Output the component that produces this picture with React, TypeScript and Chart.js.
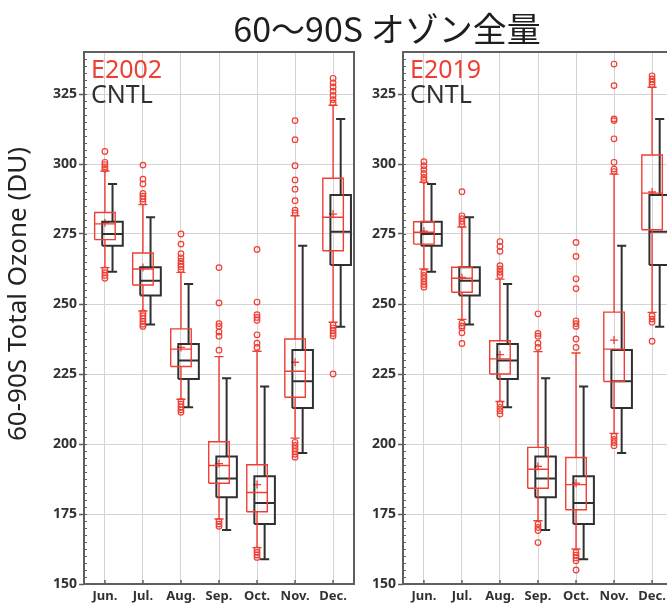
import { useEffect, useRef } from 'react';
import { Chart, registerables } from 'chart.js';

Chart.register(...registerables);

// ---------- data ----------
const MONTHS = ['Jun.', 'Jul.', 'Aug.', 'Sep.', 'Oct.', 'Nov.', 'Dec.'];
const Y_TICKS = [150, 175, 200, 225, 250, 275, 300, 325];
const TITLE_LATIN = '60〜90S';
const TITLE_JA = 'オゾン全量';
const Y_TITLE = '60-90S Total Ozone (DU)';
const CNTL_LABEL = 'CNTL';

// CNTL (black) boxes: whisker low, Q1, median, Q3, whisker high
const CNTL_LOW = [261.5, 242.7, 213.1, 169.3, 158.8, 196.8, 241.9];
const CNTL_Q1 = [270.8, 253.0, 223.2, 181.0, 171.4, 212.9, 263.9];
const CNTL_MED = [275.0, 258.3, 229.8, 187.7, 178.9, 222.4, 275.8];
const CNTL_Q3 = [279.4, 263.1, 235.7, 195.5, 188.5, 233.6, 288.9];
const CNTL_HIGH = [292.9, 281.0, 257.1, 223.5, 220.5, 270.8, 316.1];

// E2002 (red, left panel)
const E2002_LOW = [263.0, 247.5, 216.0, 173.2, 163.0, 202.1, 243.5];
const E2002_Q1 = [273.0, 256.8, 227.7, 186.0, 175.8, 216.7, 269.0];
const E2002_MED = [278.6, 262.5, 233.9, 192.3, 182.7, 226.0, 281.0];
const E2002_Q3 = [282.7, 268.2, 241.1, 200.8, 192.6, 237.5, 294.9];
const E2002_HIGH = [297.5, 285.5, 261.3, 231.2, 233.1, 281.5, 321.0];
const E2002_MEAN = [279.0, 263.0, 234.5, 193.0, 185.5, 229.2, 282.1];
const E2002_OUTLIERS = [
  [304.5, 300.6, 299.8, 299.0, 298.2, 262.2, 261.2, 260.2, 259.2],
  [299.6, 294.6, 292.9, 289.5, 288.5, 287.5, 286.5, 246.8, 245.8, 244.8, 243.8, 242.8, 242.0],
  [275.0, 271.4, 268.0, 266.5, 265.3, 264.2, 263.3, 262.3, 215.2, 214.2, 213.2, 212.2, 211.3],
  [263.0, 250.4, 243.0, 242.0, 240.0, 238.5, 233.5, 172.3, 171.4, 170.6],
  [269.5, 250.7, 246.2, 245.2, 244.2, 239.0, 236.0, 234.5, 162.2, 161.3, 160.4, 159.5],
  [315.5, 308.7, 299.4, 294.3, 291.0, 286.9, 283.5, 282.5, 200.6, 199.5, 198.4, 197.3, 196.3, 195.3],
  [330.6, 329.0, 327.5, 326.0, 324.5, 323.0, 321.8, 242.5, 241.5, 240.5, 239.5, 238.6, 225.0],
];

// E2019 (red, right panel)
const E2019_LOW = [262.5, 244.5, 215.2, 172.6, 162.5, 203.8, 247.0];
const E2019_Q1 = [271.4, 254.2, 225.0, 184.2, 176.5, 222.3, 276.5];
const E2019_MED = [275.6, 259.2, 230.4, 191.0, 185.5, 233.9, 289.6];
const E2019_Q3 = [279.4, 263.1, 236.9, 198.8, 195.2, 247.1, 303.2];
const E2019_HIGH = [293.5, 277.5, 258.9, 233.0, 232.5, 296.4, 327.4];
const E2019_MEAN = [276.0, 259.5, 231.9, 192.0, 186.0, 237.1, 290.0];
const E2019_OUTLIERS = [
  [300.8, 299.4, 298.0, 296.6, 295.2, 294.2, 261.3, 260.2, 259.1, 258.0, 257.0, 256.0],
  [290.1, 281.5, 280.5, 279.5, 278.5, 243.2, 242.2, 241.5, 239.7, 235.9],
  [272.3, 270.6, 268.8, 263.7, 262.5, 261.3, 260.2, 214.3, 213.1, 211.9, 210.7],
  [246.5, 239.5, 238.5, 236.0, 234.5, 171.4, 170.2, 169.1, 164.8],
  [272.0, 267.0, 259.0, 255.5, 244.0, 243.0, 242.0, 237.5, 234.5, 161.3, 160.3, 159.3, 158.3, 155.0],
  [335.7, 328.0, 316.1, 315.5, 309.0, 300.6, 298.2, 297.3, 202.8, 201.6, 200.5, 199.4],
  [331.5, 330.4, 329.3, 328.3, 245.8, 244.6, 243.5, 236.7],
];

// ---------- styling ----------
const RED = 'rgb(240,62,52)';
const DARK = 'rgb(48,48,48)';
const FRAME = 'rgb(95,95,95)';
const GRID = 'rgb(212,212,212)';
const RED_OFFSET = 0;
const CNTL_OFFSET = 0.2;
const HALF_W = 0.27;
const CAP_W = 0.12;
const Y_MIN = 150;
const Y_MAX = 340;
const Y_MINOR = 2.5;

type Pt = { x: number; y: number | null };

function boxPath(off: number, low: number[], q1: number[], med: number[], q3: number[], high: number[]): Pt[] {
  const pts: Pt[] = [];
  low.forEach((_, i) => {
    const c = i + off;
    const gap = () => pts.push({ x: c, y: null });
    pts.push({ x: c - HALF_W, y: q1[i] }, { x: c + HALF_W, y: q1[i] }, { x: c + HALF_W, y: q3[i] }, { x: c - HALF_W, y: q3[i] }, { x: c - HALF_W, y: q1[i] });
    gap();
    pts.push({ x: c - HALF_W, y: med[i] }, { x: c + HALF_W, y: med[i] });
    gap();
    pts.push({ x: c, y: q3[i] }, { x: c, y: high[i] });
    gap();
    pts.push({ x: c, y: q1[i] }, { x: c, y: low[i] });
    gap();
    pts.push({ x: c - CAP_W, y: high[i] }, { x: c + CAP_W, y: high[i] });
    gap();
    pts.push({ x: c - CAP_W, y: low[i] }, { x: c + CAP_W, y: low[i] });
    gap();
  });
  return pts;
}

const decorPlugin = {
  id: 'panelDecor',
  afterDraw(chart: any, _args: any, opts: any) {
    const { ctx, chartArea, scales } = chart;
    const { left, right, top, bottom } = chartArea;
    const xs = scales.x;
    const ys = scales.y;
    ctx.save();
    // minor ticks on y (inward)
    ctx.strokeStyle = FRAME;
    ctx.lineWidth = 1;
    ctx.beginPath();
    for (let v = Y_MIN + Y_MINOR; v < Y_MAX; v += Y_MINOR) {
      const py = Math.round(ys.getPixelForValue(v)) + 0.5;
      ctx.moveTo(left, py);
      ctx.lineTo(left + 3, py);
    }
    ctx.stroke();
    // inward ticks on x
    ctx.lineWidth = 1.5;
    ctx.beginPath();
    MONTHS.forEach((_, i) => {
      const px = xs.getPixelForValue(i);
      ctx.moveTo(px, bottom);
      ctx.lineTo(px, bottom - 4);
    });
    ctx.stroke();
    // frame
    ctx.strokeStyle = FRAME;
    ctx.lineWidth = 2;
    ctx.strokeRect(left, top, right - left, bottom - top);
    // legend texts
    ctx.font = '25px "Noto Sans"';
    ctx.textAlign = 'left';
    ctx.textBaseline = 'alphabetic';
    ctx.fillStyle = RED;
    ctx.fillText(opts.label, left + 7, top + 26);
    ctx.fillStyle = DARK;
    ctx.fillText(CNTL_LABEL, left + 7, top + 51);
    // y title
    if (opts.yTitle) {
      ctx.translate(19, 294);
      ctx.rotate(-Math.PI / 2);
      ctx.textAlign = 'center';
      ctx.textBaseline = 'middle';
      ctx.font = '26px "Noto Sans"';
      ctx.fillStyle = 'rgb(35,35,35)';
      ctx.fillText(Y_TITLE, 0, 0);
    }
    ctx.restore();
  },
};

type PanelProps = {
  label: string;
  low: number[];
  q1: number[];
  med: number[];
  q3: number[];
  high: number[];
  mean: number[];
  outliers: number[][];
  yTitle: boolean;
  left: number;
};

function Panel(p: PanelProps) {
  const ref = useRef<HTMLCanvasElement>(null);
  useEffect(() => {
    if (!ref.current) return;
    const outlierPts = p.outliers.flatMap((arr, i) => arr.map((v) => ({ x: i + RED_OFFSET, y: v })));
    const meanPts = p.mean.map((v, i) => ({ x: i + RED_OFFSET, y: v }));
    const tickFont = { family: '"Noto Sans"', size: 14, weight: 'bold' as const };
    const chart = new Chart(ref.current, {
      type: 'scatter',
      data: {
        datasets: [
          {
            label: p.label,
            data: boxPath(RED_OFFSET, p.low, p.q1, p.med, p.q3, p.high) as any,
            showLine: true,
            borderColor: RED,
            borderWidth: 1.4,
            pointRadius: 0,
            borderJoinStyle: 'miter',
            spanGaps: false,
          },
          {
            label: CNTL_LABEL,
            data: boxPath(CNTL_OFFSET, CNTL_LOW, CNTL_Q1, CNTL_MED, CNTL_Q3, CNTL_HIGH) as any,
            showLine: true,
            borderColor: DARK,
            borderWidth: 2,
            pointRadius: 0,
            borderJoinStyle: 'miter',
            spanGaps: false,
          },
          {
            label: p.label + ' outliers',
            data: outlierPts,
            showLine: false,
            pointStyle: 'circle',
            pointRadius: 2.8,
            pointBorderWidth: 1.2,
            pointBorderColor: RED,
            pointBackgroundColor: 'rgba(255,255,255,0)',
          },
          {
            label: p.label + ' mean',
            data: meanPts,
            showLine: false,
            pointStyle: 'cross',
            pointRadius: 4,
            pointBorderWidth: 1.3,
            pointBorderColor: RED,
          },
        ],
      },
      options: {
        animation: false,
        responsive: false,
        maintainAspectRatio: false,
        devicePixelRatio: 1,
        events: [],
        layout: { padding: { left: 0, right: 6, top: 52, bottom: 0 } },
        plugins: {
          legend: { display: false },
          tooltip: { enabled: false },
          title: { display: false },
          panelDecor: { label: p.label, yTitle: p.yTitle },
        } as any,
        scales: {
          x: {
            type: 'linear',
            min: -0.55,
            max: 6.55,
            afterBuildTicks: (s: any) => {
              s.ticks = MONTHS.map((_, i) => ({ value: i }));
            },
            afterFit: (s: any) => {
              s.height = 19;
            },
            grid: { color: GRID, lineWidth: 1, drawTicks: false },
            border: { display: false },
            ticks: {
              callback: (v: any) => MONTHS[v] ?? '',
              color: 'rgb(50,50,50)',
              font: { family: '"Noto Sans"', size: 13, weight: 'bold' },
              padding: 4,
              maxRotation: 0,
              autoSkip: false,
            },
          },
          y: {
            type: 'linear',
            min: Y_MIN,
            max: Y_MAX,
            afterBuildTicks: (s: any) => {
              s.ticks = Y_TICKS.map((v) => ({ value: v }));
            },
            afterFit: (s: any) => {
              s.width = 84;
            },
            grid: { color: GRID, lineWidth: 1, drawTicks: true, tickLength: 5, tickColor: FRAME, tickWidth: 1.5 },
            border: { display: false },
            ticks: {
              color: 'rgb(50,50,50)',
              font: tickFont,
              padding: 2,
            },
          },
        },
      },
      plugins: [decorPlugin],
    });
    return () => chart.destroy();
  }, []);
  return (
    <canvas
      ref={ref}
      width={360}
      height={603}
      style={{ position: 'absolute', left: p.left, top: 0, width: 360, height: 603 }}
    />
  );
}

export default function App() {
  return (
    <div
      style={{
        position: 'fixed',
        left: 0,
        top: 0,
        width: 667,
        height: 603,
        overflow: 'hidden',
        background: '#fff',
      }}
    >
      <Panel
        label="E2002"
        low={E2002_LOW}
        q1={E2002_Q1}
        med={E2002_MED}
        q3={E2002_Q3}
        high={E2002_HIGH}
        mean={E2002_MEAN}
        outliers={E2002_OUTLIERS}
        yTitle={true}
        left={0}
      />
      <Panel
        label="E2019"
        low={E2019_LOW}
        q1={E2019_Q1}
        med={E2019_MED}
        q3={E2019_Q3}
        high={E2019_HIGH}
        mean={E2019_MEAN}
        outliers={E2019_OUTLIERS}
        yTitle={false}
        left={319}
      />
      <div
        style={{
          position: 'absolute',
          left: 87,
          width: 600,
          top: 11,
          textAlign: 'center',
          fontFamily: '"Noto Sans CJK JP", "Noto Sans", sans-serif',
          fontSize: 34,
          lineHeight: '34px',
          color: 'rgb(30,30,30)',
          whiteSpace: 'nowrap',
        }}
      >
        {TITLE_LATIN} {TITLE_JA}
      </div>
    </div>
  );
}
